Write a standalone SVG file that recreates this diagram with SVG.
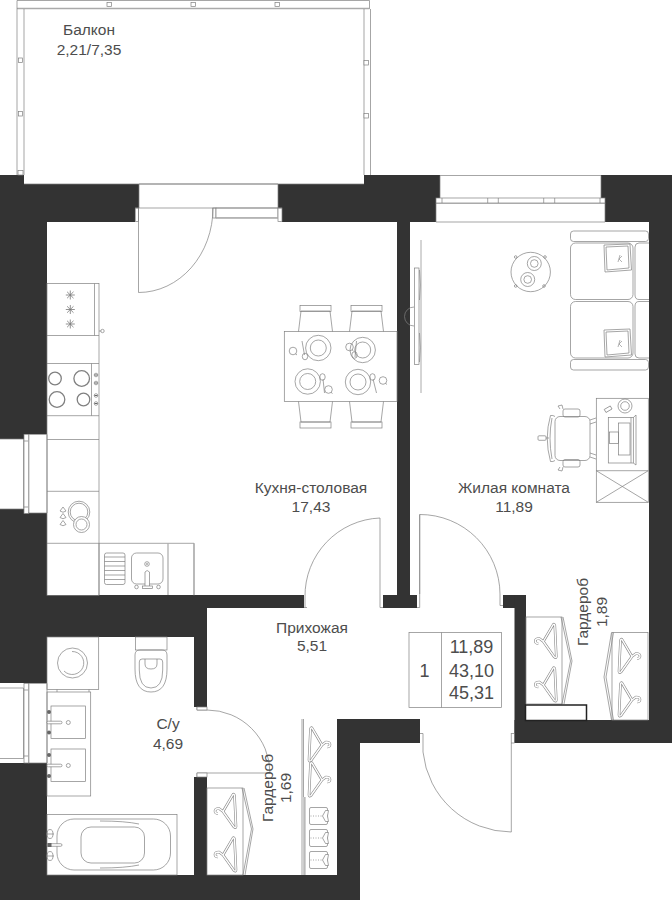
<svg xmlns="http://www.w3.org/2000/svg" width="672" height="900" viewBox="0 0 672 900">
<style>
.w{fill:#333}
.l{fill:none;stroke:#808080;stroke-width:.7}
.f{fill:#fff;stroke:#808080;stroke-width:.7}
.g{fill:none;stroke:#aaa;stroke-width:1.2}
.d{fill:#666}
text{font-family:"Liberation Sans",Arial,sans-serif;font-size:15.5px;fill:#4d4d4d;text-anchor:middle}
.t{font-size:18px}
</style>
<defs>
<g id="hanger"><path d="M0,0L10,-17Q11,-18 11.5,-16L13,15Q13,17 11,15.500L0,0L-4,-3Q-8,-3 -8,-.5Q-8,2 -5,2" fill="none" stroke="#8a8a8a" stroke-width="2.600"/><path d="M0,0L10,-17Q11,-18 11.5,-16L13,15Q13,17 11,15.500L0,0L-4,-3Q-8,-3 -8,-.5Q-8,2 -5,2" fill="none" stroke="#fff" stroke-width="1.400"/></g>
<g id="clothes"><rect x="0" y="0" width="18" height="17" rx="1.500" class="l"/><path d="M1,8.500H12" stroke="#808080" stroke-width=".7" stroke-dasharray="1 1.500" fill="none"/><path d="M13,8.500L16,3L19,3L18,8.500L19,14L16,14Z" class="f"/></g>
<g id="setting"><circle r="12.700" class="l"/><circle r="8" class="l"/></g>
<g id="cup"><circle r="3.800" class="l"/><path d="M2.500,2.800L4,4" class="l"/></g>
<g id="pillow"><path d="M1,1L27,0L28.500,26L2,28Z" class="l"/><path d="M3,3L25,2L26,24L4,26Z" class="l"/><path d="M17,11L15,18M19,12L16,15L19,18" stroke="#808080" stroke-width=".6" fill="none"/></g>
<g id="star"><path d="M-4.500,0H4.500M0,-4.500V4.500M-3.200,-3.200L3.200,3.200M-3.200,3.200L3.200,-3.200" stroke="#777" stroke-width=".8"/></g>
<g id="tap"><rect x="0" y="-1.300" width="15" height="2.600" rx="1.300" fill="#fff" stroke="#808080" stroke-width=".7"/></g>
</defs>
<rect width="672" height="900" fill="#fff"/>

<g id="walls">
<rect class="w" x="0" y="175" width="24" height="15"/>
<rect class="w" x="0" y="184" width="139" height="24"/>
<rect class="w" x="0" y="208" width="135" height="14"/>
<rect class="w" x="0" y="222" width="47" height="212"/>
<rect class="w" x="0" y="434" width="24" height="5"/>
<rect class="w" x="0" y="509" width="24" height="5"/>
<rect class="w" x="0" y="513" width="47" height="82"/>
<rect class="w" x="278" y="184" width="158" height="24"/>
<rect class="w" x="282" y="208" width="154" height="14"/>
<rect class="w" x="364" y="175" width="76" height="23"/>
<rect class="w" x="601" y="175" width="71" height="23"/>
<rect class="w" x="605" y="198" width="67" height="24"/>
<rect class="w" x="649" y="222" width="23" height="521"/>
<rect class="w" x="397" y="222" width="13" height="374"/>
<rect class="w" x="0" y="595" width="304" height="13"/>
<rect class="w" x="383" y="595" width="34" height="13"/>
<rect class="w" x="503" y="595" width="23" height="13"/>
<rect class="w" x="514.500" y="595" width="11.500" height="148"/>
<rect class="w" x="514.500" y="720" width="157.500" height="23"/>
<rect class="w" x="0" y="608" width="207" height="29"/>
<rect class="w" x="0" y="637" width="47" height="46"/>
<rect class="w" x="194" y="637" width="13" height="70"/>
<rect class="w" x="194" y="777" width="13" height="98"/>
<rect class="w" x="0" y="763" width="47" height="137"/>
<rect class="w" x="0" y="875" width="360" height="25"/>
<rect class="w" x="337" y="719" width="83" height="24"/>
<rect class="w" x="337" y="743" width="23" height="132"/>
</g>

<g id="balcony">
<path class="l" d="M17,.5H369.500V9"/>
<path d="M17,8.500H369.500" stroke="#aaa" stroke-width="1.500"/>
<path class="l" d="M17,.5V175M24,9V175M364,9V175M370.500,9V175"/>
<g class="f"><rect x="107" y="2.500" width="4.500" height="4"/><rect x="191" y="2.500" width="4.500" height="4"/><rect x="275" y="2.500" width="4.500" height="4"/><rect x="18.500" y="58" width="4" height="4.500"/><rect x="18.500" y="111.500" width="4" height="4.500"/><rect x="18" y="170.500" width="5" height="4.500"/><rect x="364" y="60.500" width="4.500" height="4.500"/><rect x="364" y="113.500" width="4.500" height="4.500"/></g>
<path class="l" d="M24,184H364"/>
</g>

<g id="windows">
<path class="l" d="M440,175.500H601M440,175.500V198M601,175.500V198"/>
<rect class="f" x="436" y="198" width="169" height="5"/>
<path class="l" d="M442,198V203M487.700,198V203M498.300,198V203M543.700,198V203M554.700,198V203M600,198V203"/>
<path class="g" d="M436,203.500H605"/>
<path class="l" d="M436,203V222M605,203V222M436,222H605"/>
<g id="win-k"><rect class="f" x="24" y="434.500" width="4.500" height="79"/><path class="l" d="M0,439H23.500M0,509H23.500M23.500,439V509M24,441H28.500M24,507H28.500"/><path class="g" d="M28.800,434.500V513"/></g>
<g id="win-b"><rect class="f" x="24" y="683.500" width="4.500" height="79.500"/><path class="l" d="M0,688H23.500M0,758.500H23.500M23.500,688V758.500M24,690H28.500M24,756H28.500"/><path class="g" d="M28.800,683.500V763"/><path class="l" d="M47,683.500V763M28,683.500H47M28,763H47"/></g>
<path class="l" d="M47,434.500V513M28,434.500H47M28,513H47"/>
</g>

<g id="doors">
<rect class="f" x="135.300" y="208" width="3.200" height="13.500"/>
<rect class="f" x="212.800" y="208" width="3.200" height="10"/>
<rect class="f" x="216" y="208" width="62" height="10"/>
<rect class="f" x="278" y="208" width="4" height="13.500"/>
<path class="l" d="M139,184H278M139,184V208M278,184V208M138.500,208V292.500A74.500,84.500 0 0 0 213,208"/>
<path class="l" d="M135.300,208H282"/>
<path class="g" d="M216,217.800H278"/>
<path class="l" d="M305,607.500V597A78,78 0 0 1 380,518V607.500H383M304,607.500H307"/>
<path class="l" d="M417,607.500H419.700V514.500A80,80 0 0 1 500,594V605.500H503M419.700,514.500V594"/>
<path class="l" d="M197,710H207A63,63 0 0 1 270,773H197V777M197,707V710"/>
<rect class="f" x="197" y="707" width="10" height="3"/>
<rect class="f" x="197" y="773" width="10" height="4"/>
<path class="l" d="M423,743V752A89,89 0 0 0 511.300,832V733M420,733.500H423V743M511.300,733.500H514.500V743H511"/>
</g>

<g id="kitchen">
<rect class="l" x="47" y="283.500" width="52" height="312"/>
<path class="l" d="M94.500,283.500V335.500M47,335.500H99M47,363.500H99M47,415.700H99M47,439.500H99M47,491.300H99M47,543.300H194V595.500M99,543.300V595"/>
<path class="g" d="M168,543.300V595M194,543.300V595"/>
<path class="l" d="M99,331H101"/><circle class="l" cx="102.500" cy="331" r="1.700"/>
<use href="#star" x="70.300" y="295"/><use href="#star" x="70.300" y="309.500"/><use href="#star" x="70.300" y="324"/>
<path class="l" d="M91.500,363.500V415.700"/>
<g fill="none" stroke="#808080" stroke-width="1.300"><circle cx="55" cy="378.500" r="6.300"/><circle cx="81.700" cy="378.500" r="7.800"/><circle cx="57" cy="399.500" r="7.800"/><circle cx="83.500" cy="399.500" r="6.300"/></g>
<g class="l"><circle cx="96" cy="375" r="1.800"/><circle cx="96" cy="383" r="1.800"/><circle cx="96" cy="395.500" r="1.800"/><circle cx="96" cy="403.500" r="1.800"/></g>
<g class="d"><rect x="94.500" y="374.500" width="3" height="1"/><rect x="94.500" y="382.500" width="3" height="1"/><rect x="94.500" y="395" width="3" height="1"/><rect x="94.500" y="403" width="3" height="1"/></g>
<g class="l"><circle cx="79" cy="512" r="10.800"/><circle cx="79" cy="512" r="8.800"/><circle class="f" cx="81.500" cy="524.500" r="8"/><circle cx="81.500" cy="524.500" r="5.500"/>
<path d="M63,507L66,511Q63,513.500 60,511Z M63,513.500L66,517.500Q63,520 60,517.500Z M63,520.500L66,524.500Q63,527 60,524.500Z"/></g>
<rect class="l" x="104.500" y="553" width="20.500" height="31.500" rx="2"/>
<path class="l" d="M104.500,557H125M104.500,561.500H125M104.500,566H125M104.500,570.500H125M104.500,575H125M104.500,579.500H125"/>
<rect class="l" x="131.500" y="553" width="31.500" height="31" rx="5"/>
<circle class="l" cx="147" cy="564" r="2.300"/><circle class="d" cx="147" cy="564" r=".8"/>
<path class="f" d="M145,588V572Q147,569 149.500,572V588Z"/>
<rect class="f" x="142.500" y="586" width="10" height="2.500"/>
<circle class="l" cx="136.500" cy="587" r="1.800"/><circle class="l" cx="158.500" cy="587" r="1.800"/>
</g>

<g id="table">
<rect class="f" x="284.300" y="331.500" width="112.700" height="70"/>
<g class="l"><path d="M298.500,331.500L301,311H330L332.500,331.500M349.500,331.500L352,311H381L383.500,331.500M298.500,401.500L301,422H330L332.500,401.500M349.500,401.500L352,422H381L383.500,401.500"/>
<rect x="300" y="305.500" width="31" height="6"/><rect x="351" y="305.500" width="31" height="6"/><rect x="300" y="422" width="31" height="6"/><rect x="351" y="422" width="31" height="6"/></g>
<use href="#setting" x="318.300" y="348"/><use href="#setting" x="362.700" y="350"/><use href="#setting" x="307.700" y="381.500"/><use href="#setting" x="358" y="382"/>
<use href="#cup" x="293" y="351"/><use href="#cup" x="349.500" y="347"/><use href="#cup" x="328.500" y="389.500"/><use href="#cup" x="383" y="380.500"/>
<g class="l"><path d="M302,341L304.500,355M356.500,341L355,357M323,379L324.500,393M373,379L376.500,393"/><ellipse cx="305" cy="356.500" rx="2.700" ry="3.300"/><ellipse cx="354.500" cy="355" rx="2.700" ry="3.300"/><ellipse cx="322.500" cy="377" rx="2.700" ry="3.300"/><ellipse cx="372.500" cy="377" rx="2.700" ry="3.300"/></g>
</g>

<g id="tv">
<path d="M421,240V393" stroke="#aaa" stroke-width="1"/>
<rect class="f" x="414.500" y="268" width="4.500" height="96.500"/>
<path class="l" d="M414,307A9.500,9.500 0 0 0 414,326M419.500,270Q421,285 419.500,300M419.500,333Q421,348 419.500,362"/>
</g>

<g id="coffee-table">
<circle class="l" cx="530.700" cy="272" r="19.700"/>
<g class="l"><circle cx="534.300" cy="263.500" r="7"/><circle cx="534.300" cy="263.500" r="3.800"/><circle cx="527.700" cy="279.500" r="7"/><circle cx="527.700" cy="279.500" r="3.800"/><circle cx="515.700" cy="257" r="1.300"/><circle cx="545" cy="257" r="1.300"/><circle cx="515.700" cy="286" r="1.300"/><circle cx="544" cy="286" r="1.300"/></g>
</g>

<g id="sofa" class="l">
<rect x="570.500" y="231" width="78" height="10.500" rx="3"/>
<rect x="570.500" y="359.500" width="78" height="10.500" rx="3"/>
<rect x="570.500" y="243" width="62.500" height="56.500" rx="5"/>
<rect x="570.500" y="301.500" width="62.500" height="56.500" rx="5"/>
<path d="M649,243H639Q635,243 635,247V295Q635,299.500 639,299.500H649M649,301.500H639Q635,301.500 635,306V354Q635,358 639,358H649"/>
<use href="#pillow" x="603" y="244"/><use href="#pillow" x="603" y="329"/>
</g>

<g id="desk" class="l">
<rect x="596.300" y="398.300" width="52" height="104"/>
<path d="M596.300,470.700H648.300M596.300,470.700L648.300,502.300M648.300,470.700L596.300,502.300"/>
<circle cx="625" cy="406" r="7"/><circle cx="625" cy="406" r="4.300"/>
<rect x="604.500" y="407.500" width="7" height="3.500" transform="rotate(-30 608 409)"/>
<rect x="608.300" y="417.500" width="25" height="45.500"/>
<path d="M633.300,417.500L636,415V465L633.300,463M631,417.500V463"/>
<rect x="618.500" y="423" width="11.500" height="32"/>
<rect x="609.500" y="432" width="9" height="11.500"/>
</g>

<g id="chair" class="l">
<rect x="555" y="416.500" width="35" height="44" rx="5"/>
<rect x="563" y="409" width="17" height="8" rx="2"/><rect x="563" y="459.500" width="17" height="7.500" rx="2"/>
<path d="M555,416.500Q553,415 550.500,415.500Q544,438 550.500,461.500Q553,462 555,460.500M552,418Q548,438 552,459"/>
<rect x="538" y="435.800" width="8" height="4.500" rx="1"/><path d="M546,438H549"/>
<path d="M590,420L596,418M590,424L596,422M590,453L596,455M590,457L596,459M560,409L558,406L562,405L563,409M560,467L558,470L562,471L563,467"/>
</g>

<g id="bath">
<rect class="l" x="47" y="637" width="51.700" height="52.500"/>
<circle class="l" cx="72.500" cy="663" r="15"/><path class="l" d="M72,651.500A11.500,11.500 0 1 1 64,671"/>
<path class="l" d="M57,689.500V692M89,689.500V692"/>
<rect class="l" x="47" y="692" width="43.700" height="104"/>
<rect class="l" x="51" y="706" width="34.500" height="32.500"/><rect class="l" x="51" y="749" width="34.500" height="32.500"/>
<use href="#tap" x="47" y="722.500"/><use href="#tap" x="47" y="765.500"/>
<circle class="l" cx="68.300" cy="722.500" r="2"/><circle class="l" cx="68.300" cy="765.500" r="2"/>
<g class="d"><circle cx="49" cy="712" r="2"/><circle cx="49" cy="732.500" r="2"/><circle cx="49" cy="755" r="2"/><circle cx="49" cy="776" r="2"/></g>
<rect class="l" x="47" y="814.500" width="130" height="60.500"/>
<rect class="l" x="57" y="819" width="113.500" height="51" rx="17"/>
<rect class="l" x="81" y="827" width="63.500" height="36" rx="10"/>
<path class="l" d="M100,821Q125,821 139,824M100,868Q125,868 139,865"/>
<use href="#tap" x="47" y="845"/><rect x="47.500" y="843" width="4" height="4" class="d"/>
<g class="l"><ellipse cx="50" cy="834" rx="3" ry="4.500"/><ellipse cx="50" cy="856" rx="3" ry="4.500"/><path d="M46,834H54M46,856H54"/></g>
<rect class="l" x="135.500" y="637" width="31.500" height="13"/>
<path class="l" d="M135,655Q135,650 140,650H162Q167,650 167,655V669Q167,692 151,692Q135,692 135,669Z"/>
<path class="l" d="M139.300,662Q139.300,659 142,659H160Q162.700,659 162.700,662V670Q162.700,688 151,688Q139.300,688 139.300,670Z"/>
<path class="l" d="M145,659V664Q145,669 151,669Q157,669 157,664V659"/>
</g>

<g id="closet-169">
<rect class="l" x="207" y="788" width="36" height="87"/>
<path class="l" d="M242,788L251.500,829L243,875M244,788L253,829L245,875"/>
<use href="#hanger" x="223" y="811.500"/><use href="#hanger" x="223" y="855"/>
</g>
<g id="closet-169b">
<path class="l" d="M302,719V875M303.500,719V797M305,797V875"/>
<path class="g" d="M304,797V875"/>
<use href="#hanger" transform="translate(322,745) scale(-1,1)"/><use href="#hanger" transform="translate(322,780) scale(-1,1)"/>
<use href="#clothes" x="309.500" y="807.500"/><use href="#clothes" x="309.500" y="829.500"/><use href="#clothes" x="309.500" y="851.500"/>
</g>
<g id="closet-189">
<rect class="l" x="526" y="617" width="36" height="87"/>
<path class="l" d="M561,617L570.500,661L562,704M563,617L572,661L564,704"/>
<use href="#hanger" x="543.300" y="641.500"/><use href="#hanger" x="543.300" y="685"/>
</g>
<g id="closet-189b">
<rect class="l" x="612" y="632.500" width="36" height="87.500"/>
<path class="l" d="M612,632.500L604.500,677L612,720M610,632.500L602.500,677L610,720" transform="translate(1.500,0)"/>
<use href="#hanger" transform="translate(632,656.500) scale(-1,1)"/><use href="#hanger" transform="translate(632,700) scale(-1,1)"/>
</g>
<g id="box"><rect x="525.500" y="705" width="61" height="15.500" fill="#fff" stroke="#222" stroke-width="1.500"/></g>

<g id="info">
<rect class="l" x="409" y="632.500" width="92.500" height="75"/>
<path class="l" d="M441.500,632.500V707.500"/>
<text class="t" x="424.500" y="677">1</text>
<text class="t" x="471.500" y="653">11,89</text>
<text class="t" x="471.500" y="676.500">43,10</text>
<text class="t" x="471.500" y="699">45,31</text>
</g>

<g id="labels">
<text x="89" y="35">Балкон</text>
<text x="89" y="54.500">2,21/7,35</text>
<text x="311" y="493">Кухня-столовая</text>
<text x="311" y="512">17,43</text>
<text x="514" y="493">Жилая комната</text>
<text x="514" y="512">11,89</text>
<text x="312" y="633">Прихожая</text>
<text x="312" y="651">5,51</text>
<text x="168" y="729">С/у</text>
<text x="168" y="749">4,69</text>
<text transform="translate(273,788) rotate(-90)">Гардероб</text>
<text transform="translate(291,788) rotate(-90)">1,69</text>
<text transform="translate(588,612) rotate(-90)">Гардероб</text>
<text transform="translate(607,612) rotate(-90)">1,89</text>
</g>
</svg>
